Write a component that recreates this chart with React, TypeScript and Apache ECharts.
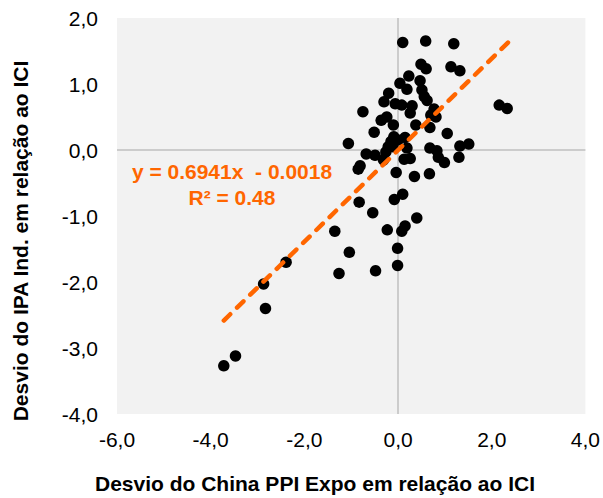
import React, { useEffect, useRef } from "react";
import * as echarts from "echarts";

// Desvio do China PPI Expo em relação ao ICI (x) vs Desvio do IPA Ind. em relação ao ICI (y)
const xValues: number[] = [
  0.10, 0.59, 1.19, 0.49, 0.60, 1.13, 1.32, 0.23, 0.04, 0.47,
  0.19, 0.51, 0.56, 0.62, -0.20, -0.30, -0.06, 0.08, 0.30, 0.26,
  -0.75, 0.77, 0.70, 0.81, 2.16, 2.33, -0.36, -0.24, -0.10, 0.38,
  0.68, -0.51, 1.05, -1.06, -0.09, -0.15, 0.15, -0.21, 0.19, 0.68,
  0.83, 1.32, 1.51, -0.68, -0.49, -0.31, 0.13, 0.26, 0.86, 0.99,
  1.30, -0.85, -0.81, -0.04, 0.35, 0.67, -0.08, 0.10, -0.83, -0.54,
  0.40, -1.35, -0.23, 0.15, 0.08, -1.04, -0.01, -1.26, -0.48, -0.01,
  -2.39, -2.87, -2.83, -3.47, -3.72, 0.00, -0.26, -0.11,
];
const yValues: number[] = [
  1.63, 1.65, 1.61, 1.30, 1.23, 1.26, 1.20, 1.12, 1.01, 1.05,
  0.92, 0.91, 0.81, 0.75, 0.86, 0.73, 0.70, 0.68, 0.67, 0.56,
  0.58, 0.62, 0.53, 0.50, 0.68, 0.63, 0.45, 0.50, 0.38, 0.38,
  0.34, 0.27, 0.25, 0.10, 0.20, 0.13, 0.19, 0.05, 0.03, 0.03,
  -0.01, 0.06, 0.09, -0.06, -0.08, -0.15, -0.14, -0.13, -0.11, -0.19,
  -0.11, -0.29, -0.24, -0.34, -0.40, -0.36, -0.75, -0.67, -0.79, -0.95,
  -1.03, -1.23, -1.21, -1.15, -1.23, -1.55, -1.49, -1.87, -1.83, -1.75,
  -1.70, -2.03, -2.40, -3.12, -3.27, 0.15, -0.03, 0.05,
];

// Linear trend
const trendSlope = 0.6941;
const trendIntercept = -0.0018;
const trendXRange: number[] = [-3.72, 2.35];
const equationLabel = "y = 0.6941x  - 0.0018";
const r2Label = "R² = 0.48";

const xAxisTitle = "Desvio do China PPI Expo em relação ao ICI";
const yAxisTitle = "Desvio do IPA Ind. em relação ao ICI";

const FONT = "'Liberation Sans', Arial, sans-serif";
const ORANGE = "#FF6600";

const fmt = (v: number) => v.toFixed(1).replace(".", ",");

export default function App() {
  const ref = useRef<HTMLDivElement>(null);
  useEffect(() => {
    if (!ref.current) return;
    const chart = echarts.init(ref.current, undefined, { renderer: "svg" });
    const points = xValues.map((x, i) => [x, yValues[i]]);
    const trend = trendXRange.map((x) => [x, trendSlope * x + trendIntercept]);
    chart.setOption({
      animation: false,
      backgroundColor: "#ffffff",
      textStyle: { fontFamily: FONT },
      grid: {
        left: 117,
        right: 17,
        top: 18,
        bottom: 84,
        show: true,
        backgroundColor: "#F2F2F2",
        borderWidth: 0,
      },
      xAxis: {
        type: "value",
        min: -6,
        max: 4,
        interval: 2,
        axisLine: { show: false },
        axisTick: { show: false },
        splitLine: { show: false },
        axisLabel: {
          formatter: fmt,
          fontSize: 21,
          color: "#000",
          fontFamily: FONT,
          margin: 15,
        },
      },
      yAxis: {
        type: "value",
        min: -4,
        max: 2,
        interval: 1,
        axisLine: { show: false },
        axisTick: { show: false },
        splitLine: { show: false },
        axisLabel: {
          formatter: fmt,
          fontSize: 21,
          color: "#000",
          fontFamily: FONT,
          margin: 19,
        },
      },
      series: [
        {
          type: "scatter",
          data: points,
          symbol: "circle",
          symbolSize: 11.5,
          itemStyle: { color: "#000000", opacity: 1 },
          silent: true,
          z: 3,
          markLine: {
            silent: true,
            symbol: "none",
            label: { show: false },
            lineStyle: { color: "#BFBFBF", type: "solid", width: 1.5 },
            data: [{ xAxis: 0 }, { yAxis: 0 }],
            z: 1,
          },
        },
        {
          type: "line",
          data: trend,
          showSymbol: false,
          symbol: "none",
          silent: true,
          z: 4,
          lineStyle: {
            color: ORANGE,
            width: 4.5,
            type: [9, 9.5],
            cap: "round",
          },
        },
      ],
      graphic: [
        {
          type: "text",
          x: 232,
          y: 171,
          z: 10,
          style: {
            text: equationLabel,
            fill: ORANGE,
            font: `bold 21px ${FONT}`,
            textAlign: "center",
            textVerticalAlign: "middle",
          },
        },
        {
          type: "text",
          x: 232,
          y: 197,
          z: 10,
          style: {
            text: r2Label,
            fill: ORANGE,
            font: `bold 21px ${FONT}`,
            textAlign: "center",
            textVerticalAlign: "middle",
          },
        },
        {
          type: "text",
          x: 315,
          y: 483,
          style: {
            text: xAxisTitle,
            fill: "#000",
            font: `bold 21px ${FONT}`,
            textAlign: "center",
            textVerticalAlign: "middle",
          },
        },
        {
          type: "text",
          x: 20,
          y: 241,
          rotation: Math.PI / 2,
          style: {
            text: yAxisTitle,
            fill: "#000",
            font: `bold 21px ${FONT}`,
            textAlign: "center",
            textVerticalAlign: "middle",
          },
        },
      ],
    });
    return () => chart.dispose();
  }, []);
  return (
    <div
      ref={ref}
      style={{ position: "fixed", left: 0, top: 0, width: 603, height: 498 }}
    />
  );
}
